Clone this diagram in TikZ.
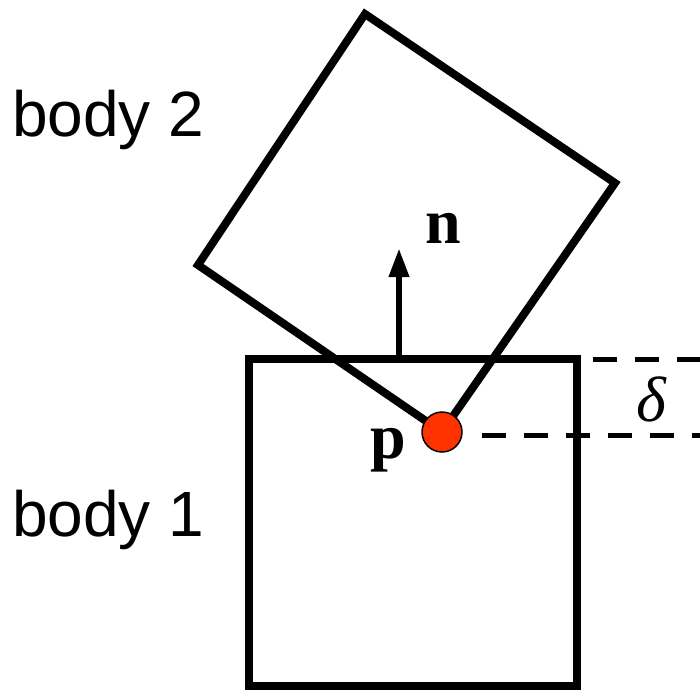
\documentclass[tikz,border=0pt]{standalone}
\usepackage{fontspec}
\setmainfont{Liberation Serif}
\newfontfamily\labelfont{Liberation Sans}
\usetikzlibrary{arrows.meta}
\definecolor{dotred}{HTML}{FF3300}
\tikzset{
  bodyline/.style={line width=8pt, line join=miter, draw=black},
  gapline/.style={line width=5pt, dash pattern=on 24pt off 18pt},
  normalarrow/.style={line width=6.5pt, -{Triangle[length=29pt,width=19pt]}},
  bodylabel/.style={inner sep=0pt, anchor=base west, font=\labelfont\fontsize{64}{72}\selectfont},
  vecl/.style={inner sep=0pt, anchor=base, font=\bfseries\fontsize{64}{70}\selectfont},
  contactdot/.style={circle, fill=dotred, draw=black, line width=1.5pt, minimum size=40pt, inner sep=0pt}
}
\begin{document}
\begin{tikzpicture}[x=1pt, y=-1pt]
\useasboundingbox (0,0) rectangle (700,691);
% body 1
\coordinate (b1a) at (249,359);
\coordinate (b1b) at (577,686);
\draw[bodyline] (b1a) rectangle (b1b);
% body 2
\coordinate (b2t) at (365,14);
\coordinate (b2r) at (615,183);
\coordinate (b2b) at (442,432);
\coordinate (b2l) at (198,265);
\draw[bodyline] (b2t) -- (b2r) -- (b2b) -- (b2l) -- cycle;
% normal
\coordinate (nbase) at (399,359);
\coordinate (ntip) at (399,248);
\draw[normalarrow] (nbase) -- (ntip);
% dashed gap lines
\coordinate (d1s) at (593,359);
\coordinate (d1e) at (700,359);
\coordinate (d2s) at (482,435);
\coordinate (d2e) at (700,435);
\draw[gapline] (d1s) -- (d1e);
\draw[gapline] (d2s) -- (d2e);
% contact point
\node[contactdot] (p) at (442,432) {};
% labels
\node[bodylabel] (l2) at (12,136) {body 2};
\node[bodylabel] (l1) at (12,536) {body 1};
\node[vecl] (nl) at (443,243) {n};
\node[vecl] (pl) at (388,458) {p};
\node[inner sep=0pt, anchor=base, font=\itshape\fontsize{64}{70}\selectfont] (dl) at (651,421) {δ};
\end{tikzpicture}
\end{document}
